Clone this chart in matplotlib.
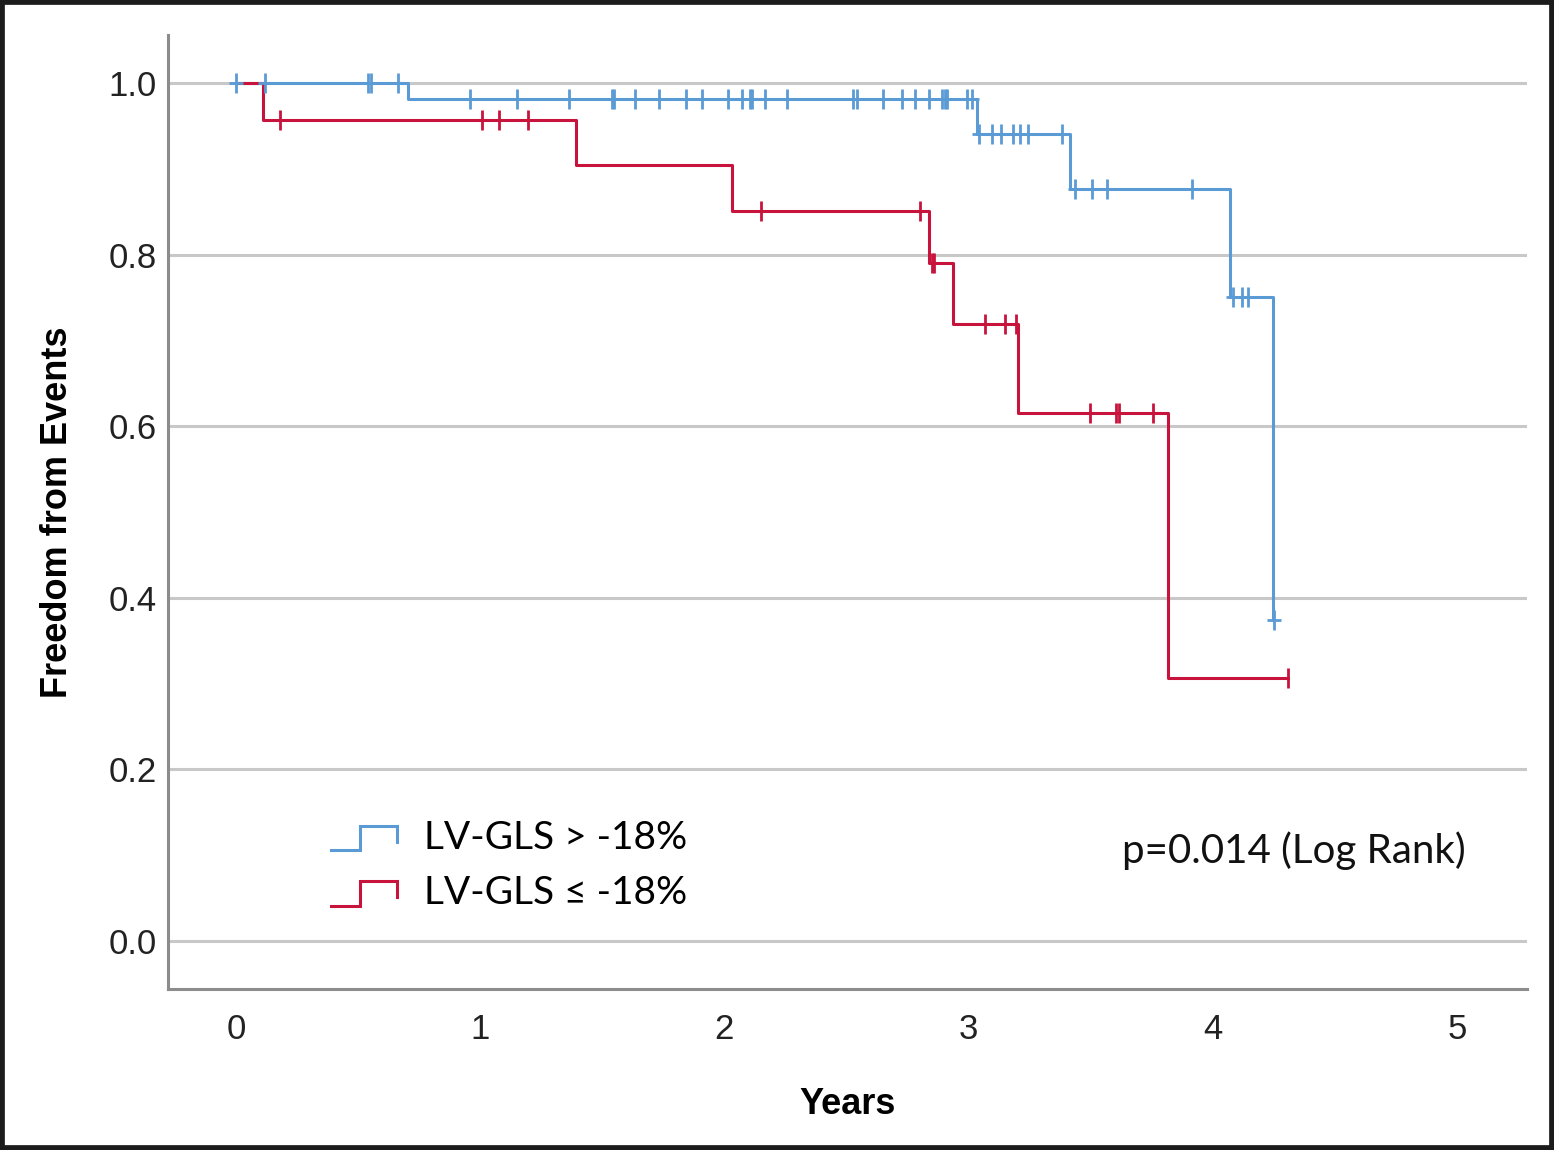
import numpy as np
import matplotlib
matplotlib.use('Agg')
import matplotlib.pyplot as plt
from matplotlib.lines import Line2D
from matplotlib.legend_handler import HandlerBase

# Kaplan-Meier steps (years, survival)
blue_times = [0.0, 0.704, 3.034, 3.415, 4.070, 4.247]
blue_surv = [1.0, 0.981, 0.940, 0.876, 0.751, 0.374]
blue_censor = [0.0, 0.119, 0.54, 0.555, 0.663, 0.958, 1.15, 1.364, 1.540, 1.548,
               1.634, 1.732, 1.843, 1.908, 2.015, 2.072, 2.105, 2.113, 2.166, 2.256,
               2.527, 2.543, 2.649, 2.727, 2.781, 2.838, 2.891, 2.903, 2.912, 2.993,
               3.014, 3.043, 3.096, 3.133, 3.182, 3.210, 3.243, 3.382, 3.436, 3.505,
               3.567, 3.915, 4.083, 4.12, 4.144, 4.25]

red_times = [0.0, 0.11, 1.392, 2.031, 2.838, 2.936, 3.202, 3.817]
red_surv = [1.0, 0.957, 0.904, 0.851, 0.790, 0.719, 0.615, 0.3065]
red_censor = [0.18, 1.007, 1.077, 1.196, 2.150, 2.80, 2.85, 2.86, 3.067, 3.149,
              3.194, 3.497, 3.605, 3.615, 3.755, 4.308]

labels = ['LV-GLS > -18%', 'LV-GLS \u2264 -18%']
blue = '#5b9bd5'
red = '#c8143c'

narrow = ['Liberation Sans Narrow', 'Liberation Sans', 'DejaVu Sans']
arial = ['Liberation Sans', 'DejaVu Sans']
calibri = ['Lato', 'DejaVu Sans']


class StepHandler(HandlerBase):
    def create_artists(self, legend, orig_handle, xdescent, ydescent, width, height, fontsize, trans):
        x0 = -xdescent
        y0 = -ydescent
        xs = [x0, x0 + 0.45 * width, x0 + 0.45 * width, x0 + width, x0 + width]
        ys = [y0 - 0.05 * height, y0 - 0.05 * height, y0 + 0.85 * height, y0 + 0.85 * height, y0 + 0.25 * height]
        ln = Line2D(xs, ys, color=orig_handle.get_color(), lw=orig_handle.get_linewidth(),
                    solid_joinstyle='miter', transform=trans)
        return [ln]


def survAt(times, surv, t):
    idx = np.searchsorted(times, t, side='right') - 1
    return np.array(surv)[idx]


fig = plt.figure(figsize=(15.54, 11.5), dpi=100)
fig.patch.set_facecolor('white')
ax = fig.add_axes([0.1081, 0.140, 0.8745, 0.8296])

for yv in [0.0, 0.2, 0.4, 0.6, 0.8, 1.0]:
    ax.axhline(yv, color='#c8c8c8', lw=2.2, zorder=1)

bx = blue_times + [blue_censor[-1]]
by = blue_surv + [blue_surv[-1]]
rx = red_times + [red_censor[-1]]
ry = red_surv + [red_surv[-1]]

hb, = ax.step(bx, by, where='post', color=blue, lw=2.2, zorder=3)
ax.plot(blue_censor, survAt(blue_times, blue_surv, blue_censor), ls='none', marker='|',
        ms=15, mew=2, color=blue, zorder=4)
ax.plot(blue_censor, survAt(blue_times, blue_surv, blue_censor), ls='none', marker='_',
        ms=10, mew=2, color=blue, zorder=4)

hr, = ax.step(rx, ry, where='post', color=red, lw=2.2, zorder=3)
ax.plot(red_censor, survAt(red_times, red_surv, red_censor), ls='none', marker='|',
        ms=15, mew=2, color=red, zorder=4)

ax.set_xlim(-0.278, 5.287)
ax.set_ylim(-0.056, 1.056)
ax.set_xticks(range(6))
ax.set_yticks([0.0, 0.2, 0.4, 0.6, 0.8, 1.0])
ax.set_yticklabels(['0.0', '0.2', '0.4', '0.6', '0.8', '1.0'])
for lab in ax.get_xticklabels() + ax.get_yticklabels():
    lab.set_family(narrow)
    lab.set_fontsize(25)
    lab.set_color('#222222')
ax.tick_params(axis='y', length=0, pad=8)
ax.tick_params(axis='x', length=0, pad=17)

for s in ['top', 'right']:
    ax.spines[s].set_visible(False)
for s in ['left', 'bottom']:
    ax.spines[s].set_color('#8c8c8c')
    ax.spines[s].set_linewidth(2.2)

ax.set_xlabel('Years', family=arial, fontsize=26, fontweight='bold', labelpad=30)
ax.set_ylabel('Freedom from Events', family=arial, fontsize=26, fontweight='bold', labelpad=24)

leg = ax.legend([hb, hr], labels, loc='upper left', bbox_to_anchor=(0.094, 0.214),
                frameon=False, handler_map={Line2D: StepHandler()},
                prop={'family': calibri, 'size': 28}, handlelength=1.7, handletextpad=0.7,
                labelspacing=0.5)

ax.text(0.955, 0.145, 'p=0.014 (Log Rank)', transform=ax.transAxes, ha='right', va='center',
        family=calibri, fontsize=29, color='#111111')

fig.patches.append(plt.Rectangle((0, 0), 1, 1, transform=fig.transFigure, fill=False,
                                 edgecolor='#1c1c1c', lw=7, zorder=10))

fig.savefig('out.png', dpi=100)
